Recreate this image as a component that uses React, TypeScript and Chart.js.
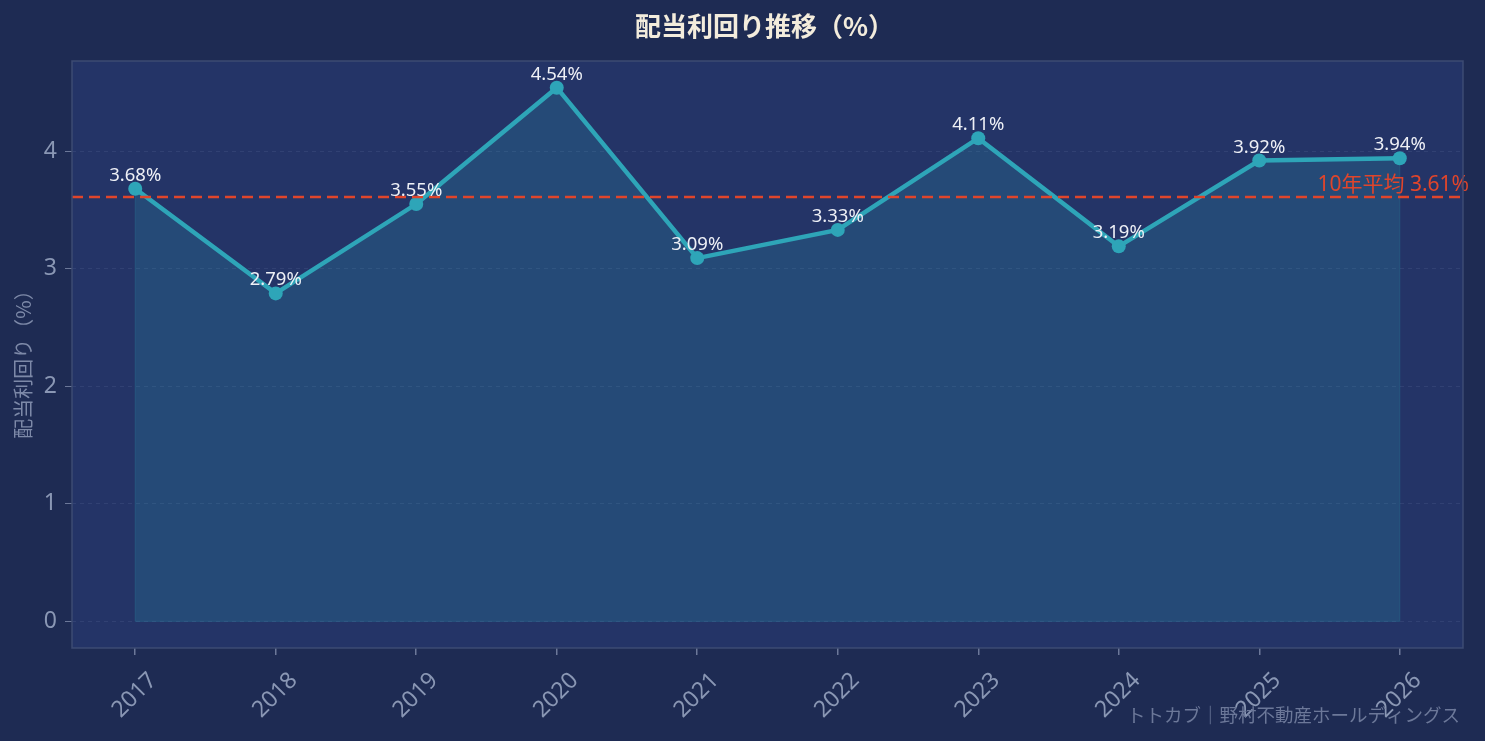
import React, { useEffect, useRef } from "react";
import { Chart, registerables } from "chart.js";

Chart.register(...registerables);

const years = ["2017", "2018", "2019", "2020", "2021", "2022", "2023", "2024", "2025", "2026"];
const yields = [3.68, 2.79, 3.55, 4.54, 3.09, 3.33, 4.11, 3.19, 3.92, 3.94];
const average = 3.61;
const yTicks = [0, 1, 2, 3, 4];

const FONT = '"Noto Sans", "Noto Sans CJK JP", sans-serif';
const CJK = '"Noto Sans CJK JP", sans-serif';
const BG = "#1e2b53";
const PLOT_BG = "#243467";
const TEAL = "#2ea5b8";
const RED = "#e0452b";
const TICK = "#8a97b4";

const decorPlugin = {
  id: "decor",
  beforeDraw(chart: any) {
    const { ctx, chartArea: a } = chart;
    ctx.save();
    ctx.fillStyle = BG;
    ctx.fillRect(0, 0, chart.width, chart.height);
    ctx.fillStyle = PLOT_BG;
    ctx.fillRect(a.left, a.top, a.right - a.left, a.bottom - a.top);
    ctx.restore();
  },
  afterDatasetsDraw(chart: any) {
    const { ctx, chartArea: a, scales } = chart;
    const xs = scales.x;
    const ys = scales.y;
    ctx.save();
    // edge of the filled area
    ctx.strokeStyle = "rgba(46,165,184,0.25)";
    ctx.lineWidth = 1;
    ctx.beginPath();
    ctx.moveTo(xs.getPixelForValue(0), ys.getPixelForValue(yields[0]));
    ctx.lineTo(xs.getPixelForValue(0), ys.getPixelForValue(0));
    ctx.lineTo(xs.getPixelForValue(yields.length - 1), ys.getPixelForValue(0));
    ctx.lineTo(xs.getPixelForValue(yields.length - 1), ys.getPixelForValue(yields[yields.length - 1]));
    ctx.stroke();

    // average line
    const ay = ys.getPixelForValue(average);
    ctx.strokeStyle = RED;
    ctx.lineWidth = 2.5;
    ctx.setLineDash([11, 6]);
    ctx.beginPath();
    ctx.moveTo(a.left, ay);
    ctx.lineTo(a.right, ay);
    ctx.stroke();
    ctx.setLineDash([]);

    ctx.font = `21px ${FONT}`;
    ctx.fillStyle = RED;
    ctx.textAlign = "right";
    ctx.textBaseline = "alphabetic";
    ctx.fillText(`10年平均 ${average.toFixed(2)}%`, a.right + 6, ay - 6);

    // plot border
    ctx.strokeStyle = "#3d4b73";
    ctx.lineWidth = 1.5;
    ctx.strokeRect(a.left, a.top, a.right - a.left, a.bottom - a.top);
    ctx.restore();
  },
  afterDraw(chart: any) {
    const { ctx, chartArea: a, scales } = chart;
    const xs = scales.x;
    const ys = scales.y;
    ctx.save();
    // value labels
    ctx.font = `18.5px ${FONT}`;
    ctx.fillStyle = "#eef0f6";
    ctx.textAlign = "center";
    ctx.textBaseline = "alphabetic";
    yields.forEach((v, i) => {
      ctx.fillText(`${v.toFixed(2)}%`, xs.getPixelForValue(i), ys.getPixelForValue(v) - 8);
    });

    // title
    ctx.font = `bold 26px ${CJK}`;
    ctx.fillStyle = "#f3ecdc";
    ctx.textBaseline = "middle";
    ctx.fillText("配当利回り推移（%）", (a.left + a.right) / 2 - 3, 26);

    // y axis title
    ctx.save();
    ctx.translate(23, (a.top + a.bottom) / 2 + 5);
    ctx.rotate(-Math.PI / 2);
    ctx.font = `20px ${CJK}`;
    ctx.fillStyle = "#7d89a8";
    ctx.fillText("配当利回り（%）", 0, 0);
    ctx.restore();

    // watermark
    ctx.font = `18.5px ${CJK}`;
    ctx.fillStyle = "#6c7899";
    ctx.textAlign = "right";
    ctx.textBaseline = "alphabetic";
    ctx.fillText("トトカブ｜野村不動産ホールディングス", 1460, 722);
    ctx.restore();
  },
};

export default function App() {
  const canvasRef = useRef<HTMLCanvasElement>(null);
  const chartRef = useRef<Chart | null>(null);

  useEffect(() => {
    document.body.style.margin = "0";
    document.body.style.background = BG;
    const ctx = canvasRef.current?.getContext("2d");
    if (!ctx) return;
    if (chartRef.current) chartRef.current.destroy();

    chartRef.current = new Chart(ctx, {
      type: "line",
      data: {
        datasets: [
          {
            data: yields.map((v, i) => ({ x: i, y: v })),
            borderColor: TEAL,
            borderWidth: 4.5,
            backgroundColor: "rgba(46,165,184,0.2)",
            fill: "origin",
            pointRadius: 7,
            pointHoverRadius: 7,
            pointBackgroundColor: TEAL,
            pointBorderWidth: 0,
            tension: 0,
          },
        ],
      },
      options: {
        animation: false,
        responsive: false,
        devicePixelRatio: 1,
        layout: { padding: { top: 61, right: 22, left: 0, bottom: 0 } },
        plugins: {
          legend: { display: false },
          tooltip: { enabled: false },
          title: { display: false },
        },
        scales: {
          x: {
            type: "linear",
            min: -0.45,
            max: 9.45,
            afterBuildTicks: (scale: any) => {
              scale.ticks = years.map((_, i) => ({ value: i }));
            },
            afterFit: (scale: any) => {
              scale.height = 93;
              scale.paddingLeft = 0;
              scale.paddingRight = 0;
            },
            ticks: {
              callback: (v: any) => years[v as number] ?? "",
              color: TICK,
              font: { family: FONT, size: 23 },
              minRotation: 45,
              maxRotation: 45,
              padding: 12,
              labelOffset: 18,
              autoSkip: false,
            },
            grid: {
              drawOnChartArea: false,
              drawTicks: true,
              tickLength: 7,
              color: "#6c7899",
              lineWidth: 1.5,
            },
            border: { display: false },
          },
          y: {
            type: "linear",
            min: -0.227,
            max: 4.767,
            afterBuildTicks: (scale: any) => {
              scale.ticks = yTicks.map((v) => ({ value: v }));
            },
            afterFit: (scale: any) => {
              scale.width = 72;
              scale.paddingTop = 0;
              scale.paddingBottom = 0;
            },
            ticks: {
              color: TICK,
              font: { family: FONT, size: 23 },
              padding: 8,
            },
            grid: {
              color: "rgba(140,155,200,0.13)",
              lineWidth: 1,
              tickColor: "#6c7899",
              tickLength: 7,
              tickBorderDash: [],
            },
            border: { display: false, dash: [4, 4] },
          },
        },
      },
      plugins: [decorPlugin],
    } as any);

    return () => {
      if (chartRef.current) {
        chartRef.current.destroy();
        chartRef.current = null;
      }
    };
  }, []);

  return (
    <div style={{ width: 1485, height: 741, background: BG }}>
      <canvas ref={canvasRef} width={1485} height={741} />
    </div>
  );
}
